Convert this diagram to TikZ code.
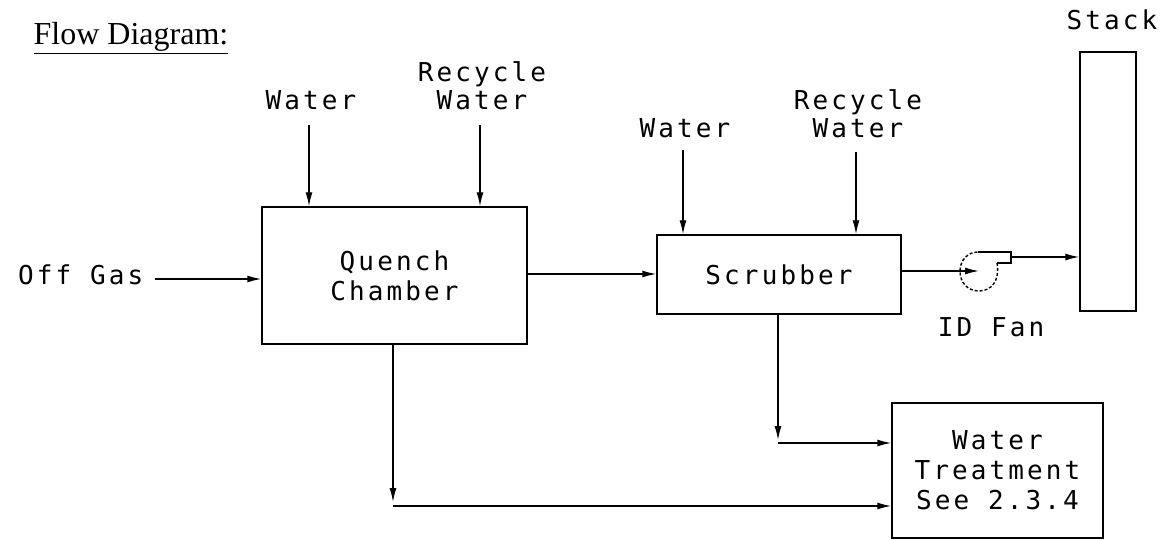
\documentclass[tikz,border=0pt]{standalone}
\usepackage{fontspec}
\setmainfont{Liberation Serif}
\newfontfamily\cadfont{DejaVu Sans Mono}[LetterSpace=12]
\usetikzlibrary{arrows.meta}
\begin{document}
\begin{tikzpicture}[x=1pt,y=-1pt,line width=1.4pt,
  arr/.style={-{Latex[length=14pt,width=7pt]}},
  box/.style={draw,rectangle,inner sep=0pt,align=center,font=\cadfont\fontsize{26}{30}\selectfont},
  lbl/.style={inner sep=0pt,align=center,font=\cadfont\fontsize{26}{28}\selectfont}]
\useasboundingbox (0,0) rectangle (1160,540);
% title
\node[anchor=base west,inner sep=0pt,font=\fontsize{32}{36}\selectfont] (title) at (33,45) {\underline{Flow Diagram:}};
% boxes
\node[box,minimum width=265pt,minimum height=137pt] (quench) at (394.5,275.5) {Quench\\Chamber};
\node[box,minimum width=244pt,minimum height=79pt] (scrub) at (779,274.5) {Scrubber};
\node[box,minimum width=211pt,minimum height=135pt] (wt) at (997.5,470.5) {Water\\Treatment\\See 2.3.4};
\node[draw,rectangle,inner sep=0pt,minimum width=56pt,minimum height=259pt] (stack) at (1108,181.5) {};
% labels
\node[lbl] (stacklbl) at (1112,20) {Stack};
\node[lbl] (water1) at (311,100) {Water};
\node[lbl] (rw1) at (482,86) {Recycle\\Water};
\node[lbl] (water2) at (685,128) {Water};
\node[lbl] (rw2) at (858,114) {Recycle\\Water};
\node[lbl,anchor=east] (offgas) at (144,275) {Off Gas};
\node[lbl] (idfan) at (991,327) {ID Fan};
% coordinates
\coordinate (og) at (155,279);
\coordinate (w1s) at (309,125);
\coordinate (r1s) at (480,125);
\coordinate (w2s) at (683,150);
\coordinate (r2s) at (856,152);
\coordinate (fan) at (979,271);
\coordinate (fanout) at (1011,257);
\coordinate (c1) at (778,443);
\coordinate (c1a) at (778,440);
\coordinate (c2) at (393,506);
\coordinate (c2a) at (393,502);
% fan
\draw (978,252) -- (1011,252) -- (1011,263) -- (997,263);
\draw[dashed,dash pattern=on 3pt off 2pt] (997,263) .. controls (1000,280) and (992,291) .. (979,291)
  .. controls (967,291) and (960,282) .. (960,271) .. controls (960,260) and (968,252) .. (978,252);
% connectors
\draw[arr] (og) -- (quench.west |- og);
\draw[arr] (w1s) -- (quench.north -| w1s);
\draw[arr] (r1s) -- (quench.north -| r1s);
\draw[arr] (w2s) -- (scrub.north -| w2s);
\draw[arr] (r2s) -- (scrub.north -| r2s);
\draw[arr] (quench.east |- 0,274) -- (scrub.west |- 0,274);
\draw[arr] (scrub.east |- fan) -- (fan);
\draw[arr] (fanout) -- (stack.west |- fanout);
\draw[arr] (scrub.south -| c1) -- (c1a);
\draw[arr] (c1) -- (wt.west |- c1);
\draw[arr] (quench.south -| c2) -- (c2a);
\draw[arr] (c2) -- (wt.west |- c2);
\end{tikzpicture}
\end{document}
